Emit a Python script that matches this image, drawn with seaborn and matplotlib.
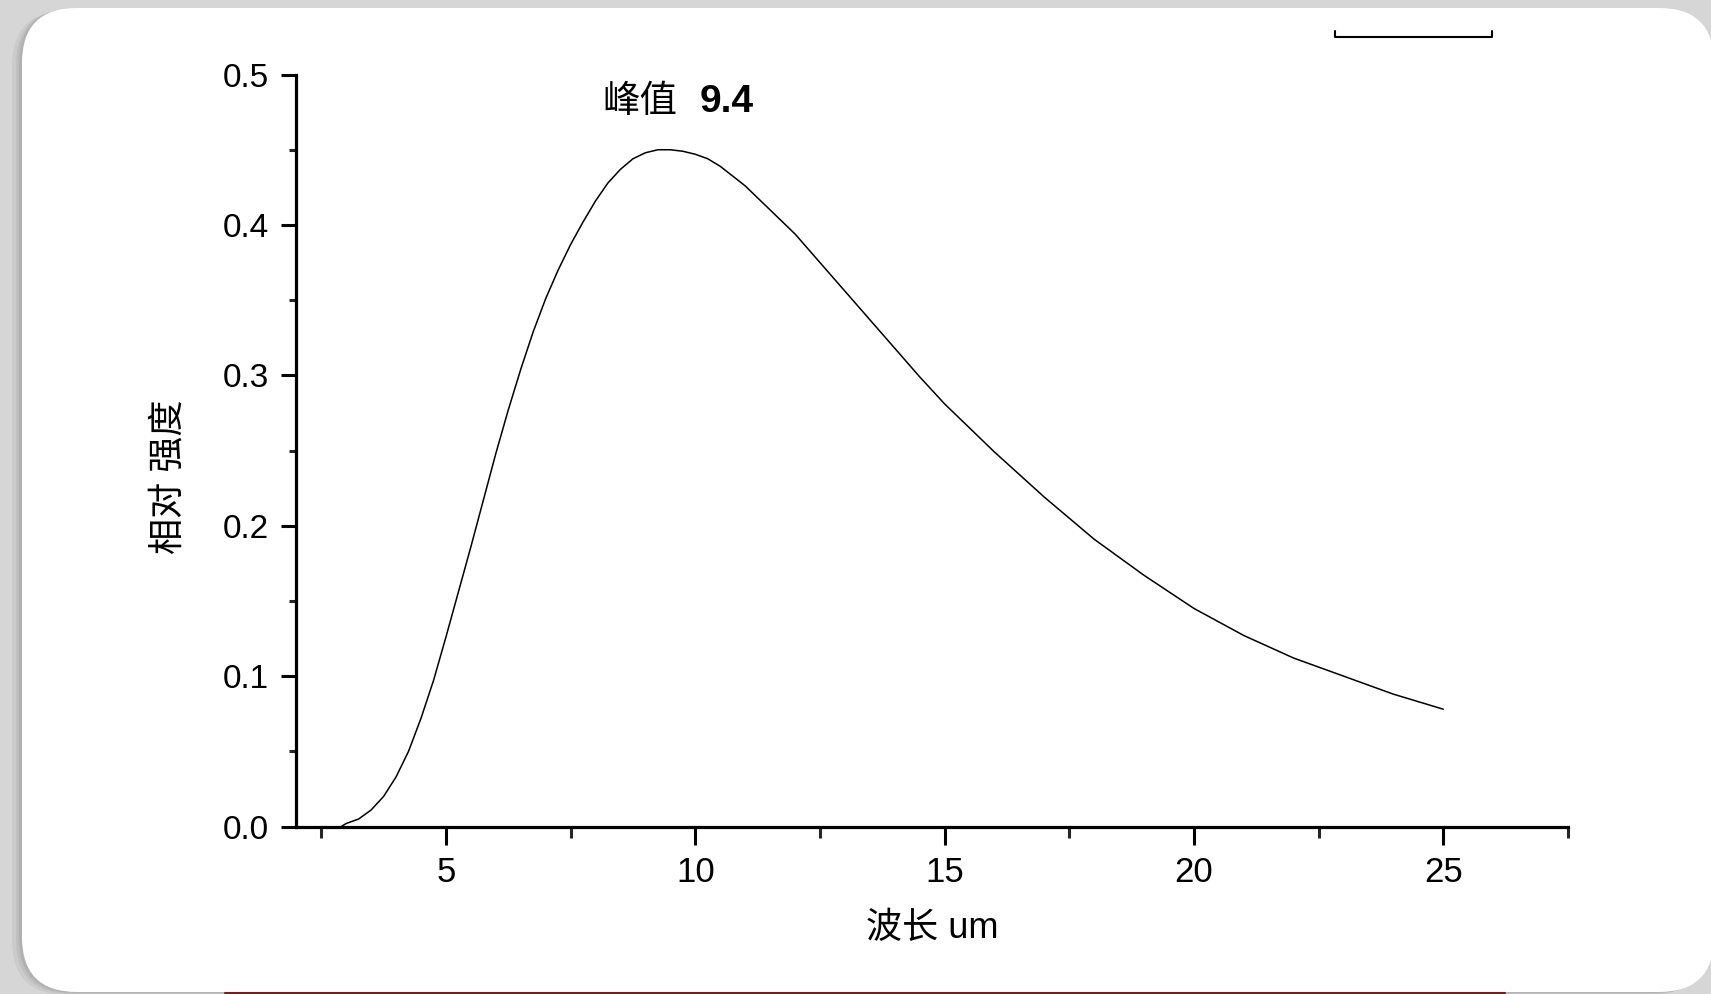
import matplotlib
matplotlib.use("Agg")
import matplotlib.pyplot as plt
from matplotlib.patches import FancyBboxPatch
from matplotlib.ticker import MultipleLocator, FormatStrFormatter
import seaborn as sns
import pandas as pd

# wavelength (um) and relative intensity
wavelength = [2.9, 3.0, 3.25, 3.5, 3.75, 4.0, 4.25, 4.5, 4.75, 5.0, 5.25, 5.5,
              5.75, 6.0, 6.25, 6.5, 6.75, 7.0, 7.25, 7.5, 7.75, 8.0, 8.25,
              8.5, 8.75, 9.0, 9.25, 9.5, 9.75, 10.0, 10.25, 10.5, 11.0, 11.5,
              12.0, 12.5, 13.0, 13.5, 14.0, 14.5, 15.0, 15.5, 16.0, 17.0,
              18.0, 19.0, 20.0, 21.0, 22.0, 23.0, 24.0, 25.0]
intensity = [0.000, 0.002, 0.005, 0.011, 0.020, 0.033, 0.050, 0.072, 0.097,
             0.126, 0.156, 0.186, 0.217, 0.248, 0.277, 0.304, 0.329, 0.351,
             0.370, 0.387, 0.402, 0.416, 0.428, 0.437, 0.444, 0.448, 0.450,
             0.450, 0.449, 0.447, 0.444, 0.439, 0.426, 0.410, 0.394, 0.375,
             0.356, 0.337, 0.318, 0.299, 0.281, 0.265, 0.249, 0.219, 0.191,
             0.167, 0.145, 0.127, 0.112, 0.100, 0.088, 0.078]

peak_word = "峰值"
peak_value = "9.4"
x_label = "波长 um"
y_label = "相对 强度"

sns.set_theme(style="ticks")
plt.rcParams["font.family"] = ["Liberation Sans", "Noto Sans CJK SC", "DejaVu Sans"]

W, H = 1711, 994
fig = plt.figure(figsize=(W / 100, H / 100), dpi=100)
fig.patch.set_facecolor("#d6d6d6")

# background "slide card" drawn in pixel units
bg = fig.add_axes([0, 0, 1, 1])
bg.set_xlim(0, W)
bg.set_ylim(H, 0)
bg.axis("off")
for off, col in [(10, "#c4c4c4"), (6, "#b8b8b8"), (3, "#a8a8a8")]:
    bg.add_patch(FancyBboxPatch((22 - off, 8 + off * 0.3), 1692, 984,
                                boxstyle="round,pad=0,rounding_size=55",
                                fc=col, ec="none", alpha=0.6))
bg.add_patch(FancyBboxPatch((22, 8), 1692, 984,
                            boxstyle="round,pad=0,rounding_size=55",
                            fc="white", ec="none"))
bg.plot([225, 1505], [993, 993], color="#7a1a1a", lw=1.5)

ax = fig.add_axes([0.1732, 0.1685, 0.7432, 0.7565])
ax.set_facecolor("none")
df = pd.DataFrame({"wavelength": wavelength, "intensity": intensity})
sns.lineplot(data=df, x="wavelength", y="intensity", ax=ax,
             color="black", lw=1.1, sort=False)

ax.set_xlim(2, 27.5)
ax.set_ylim(0, 0.5)
ax.xaxis.set_major_locator(MultipleLocator(5))
ax.xaxis.set_minor_locator(MultipleLocator(2.5))
ax.yaxis.set_major_locator(MultipleLocator(0.1))
ax.yaxis.set_minor_locator(MultipleLocator(0.05))
ax.yaxis.set_major_formatter(FormatStrFormatter("%.1f"))

sns.despine(ax=ax)
for s in ["left", "bottom"]:
    ax.spines[s].set_linewidth(2.3)
    ax.spines[s].set_color("black")

ax.tick_params(axis="x", which="major", direction="out", length=13, width=2.2,
               pad=8, labelsize=25, colors="black")
ax.tick_params(axis="x", which="minor", direction="out", length=8, width=2.2)
ax.tick_params(axis="y", which="major", direction="out", length=11, width=2.2,
               pad=9, labelsize=24, colors="black")
ax.tick_params(axis="y", which="minor", direction="out", length=5, width=2.2)

ax.set_xlabel(x_label, fontsize=26, labelpad=16, color="black")
ax.set_ylabel(y_label, fontsize=26, color="black")
ax.yaxis.set_label_coords(-0.086, 0.465)

# peak annotation
ax.text(8.13, 0.482, peak_word, fontsize=27, ha="left", va="center", color="black")
ax.text(10.08, 0.482, peak_value, fontsize=28, fontweight="semibold",
        ha="left", va="center", color="black")

# leftover legend frame fragment at the top right
ax.plot([22.83, 22.83, 25.97, 25.97], [0.529, 0.5247, 0.5247, 0.529],
        color="black", lw=1.5, clip_on=False)

fig.savefig("out.png", dpi=100, facecolor=fig.get_facecolor())
